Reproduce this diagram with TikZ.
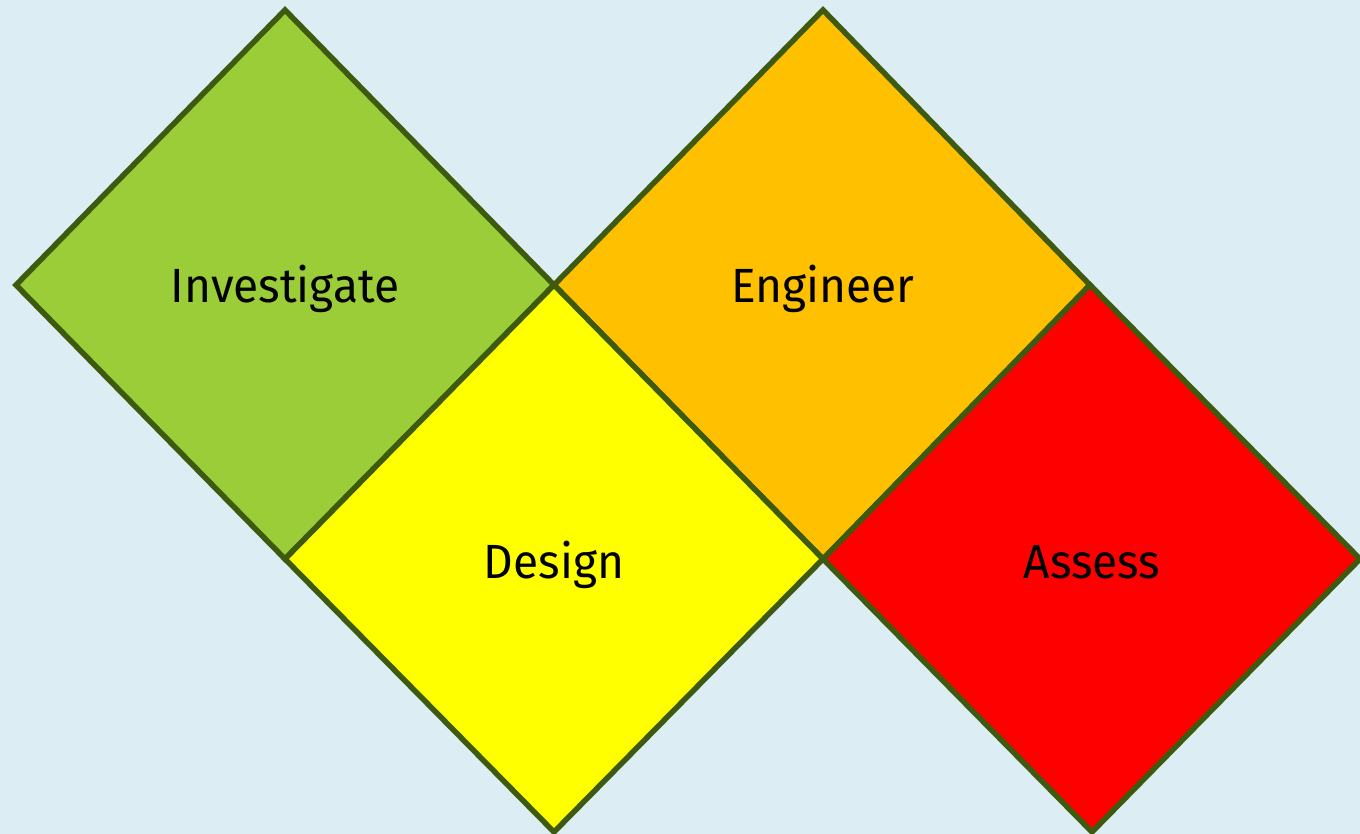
\documentclass[tikz,border=0pt]{standalone}
\usepackage{fontspec}
\usepackage{graphicx}
\setmainfont{Fira Sans}
\definecolor{bg}{HTML}{DCEEF4}
\definecolor{edge}{HTML}{3D5A0F}
\definecolor{cgreen}{HTML}{9ACD38}
\definecolor{corange}{HTML}{FFC000}
\definecolor{cyellow}{HTML}{FFFF00}
\definecolor{cred}{HTML}{FF0000}
\newcommand{\tilelabel}[1]{\scalebox{0.96}[1]{#1}}
\begin{document}
\begin{tikzpicture}[x=1pt,y=-1pt,
  tile/.style={draw=edge,line width=5.5pt,line join=miter},
  lbl/.style={font=\fontsize{48}{52}\selectfont,text=black,inner sep=0pt,anchor=base}]
\fill[bg] (0,0) rectangle (1360,834);
\useasboundingbox (0,0) rectangle (1360,834);
\draw[tile,fill=cgreen] (285,10) -- (554,285) -- (285,559) -- (16,285) -- cycle;
\draw[tile,fill=corange] (823,10) -- (1090,285) -- (823,559) -- (554,285) -- cycle;
\draw[tile,fill=cyellow] (554,285) -- (823,559) -- (554,832) -- (285,559) -- cycle;
\draw[tile,fill=cred] (1090,285) -- (1360,559) -- (1092,832) -- (823,559) -- cycle;
\node[lbl] (inv) at (285,303) {\tilelabel{Investigate}};
\node[lbl] (eng) at (823,303) {\tilelabel{Engineer}};
\node[lbl] (des) at (554,578) {\tilelabel{Design}};
\node[lbl] (ass) at (1092,578) {\tilelabel{Assess}};
\end{tikzpicture}
\end{document}
